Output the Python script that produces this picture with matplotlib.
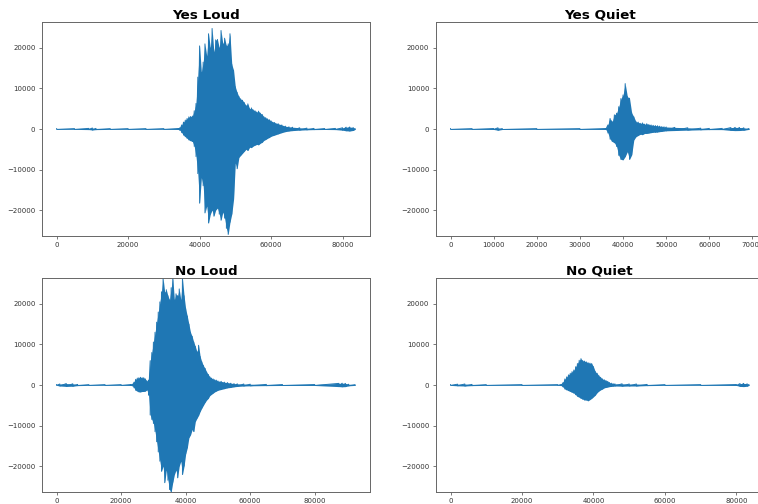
import numpy as np
import matplotlib
matplotlib.use('Agg')
import matplotlib.pyplot as plt

# peak envelope of each recording: sample index, max and min amplitude
yes_loud_pos = [0, 5000, 9000, 10000, 11000, 15000, 20000, 25000, 30000, 34000,
                34500, 35000, 35500, 36000, 36500, 37000, 37500, 38000, 38500, 39000,
                39500, 40000, 40500, 41000, 41500, 42000, 42500, 43000, 43500, 44000,
                44500, 45000, 45500, 46000, 46500, 47000, 47500, 48000, 48500, 49000,
                49500, 50000, 50500, 51000, 51500, 52000, 52500, 53000, 53500, 54000,
                54500, 55000, 55500, 56000, 56500, 57000, 57500, 58000, 58500, 59000,
                59500, 60000, 61000, 62000, 63000, 64000, 65000, 66000, 68000, 70000,
                72000, 75000, 78000, 80000, 81000, 82000, 83000, 83500]
yes_loud_hi = [100, 100, 150, 250, 150, 100, 100, 100, 100, 120,
               300, 1000, 1700, 2200, 2600, 3000, 3100, 3200, 4500, 6300,
               12800, 20500, 14000, 16500, 21000, 18000, 23500, 20000, 24800, 19000,
               22000, 22100, 20000, 24300, 21000, 22400, 20500, 21000, 23500, 16000,
               14500, 10400, 9000, 8000, 7400, 7100, 6500, 5800, 6200, 5000,
               5200, 4700, 4500, 4200, 4400, 3900, 3600, 3000, 2800, 2500,
               2300, 2000, 1600, 1300, 1000, 700, 550, 450, 300, 220,
               150, 120, 150, 300, 450, 500, 350, 100]
yes_loud_lo = [-100, -100, -150, -250, -150, -100, -100, -100, -100, -120,
               -300, -900, -1500, -1900, -2300, -2700, -2900, -3100, -4300, -6800,
               -11000, -18300, -12000, -14000, -20700, -19000, -23200, -21000, -20000, -21500,
               -20000, -19500, -21000, -22500, -20500, -22000, -24500, -26000, -23000, -21000,
               -17400, -8400, -9800, -7000, -6500, -6000, -5500, -5000, -5300, -4500,
               -4600, -4200, -4000, -3800, -3900, -3500, -3300, -2800, -2600, -2300,
               -2100, -1800, -1500, -1200, -900, -650, -500, -400, -280, -200,
               -150, -120, -150, -300, -450, -500, -350, -100]

yes_quiet_pos = [0, 5000, 10000, 11000, 12000, 20000, 30000, 36000,
                 36500, 37000, 37500, 38000, 38500, 39000, 39500, 40000, 40500, 41000,
                 41500, 42000, 42500, 43000, 43500, 44000, 44500, 45000, 45500, 46000,
                 46500, 47000, 47500, 48000, 48500, 49000, 49500, 50000,
                 52000, 55000, 58000, 60000, 63000, 65000, 66000, 67000, 68000, 69200]
yes_quiet_hi = [100, 100, 120, 300, 120, 100, 100, 120,
                1000, 2600, 1800, 3500, 3900, 5500, 7500, 8400, 11200, 8000,
                7600, 4000, 3000, 1800, 1700, 1400, 1500, 1200, 1300, 1100,
                1000, 900, 850, 800, 700, 600, 550, 500,
                400, 300, 200, 150, 150, 350, 400, 380, 300, 100]
yes_quiet_lo = [-100, -100, -120, -300, -120, -100, -100, -120,
                -1000, -2500, -3100, -3400, -4300, -6500, -7500, -7600, -6800, -5600,
                -7500, -6400, -2700, -1900, -1600, -1300, -1400, -1100, -1100, -1000,
                -900, -800, -800, -750, -650, -600, -500, -450,
                -380, -280, -200, -150, -150, -350, -400, -380, -300, -100]

no_loud_pos = [0, 1000, 3000, 5000, 6500, 10000, 15000, 20000, 23000,
               23500, 24000, 24500, 25000, 25500, 26000, 26500, 27000, 27500, 28000,
               28500, 29000, 29500, 30000, 30500, 31000, 31500, 32000, 32500, 33000,
               33500, 34000, 34500, 35000, 35500, 36000, 36500, 37000, 37500, 38000,
               38500, 39000, 39500, 40000, 40500, 41000, 41500, 42000, 42500, 43000,
               43500, 44000, 44500, 45000, 45500, 46000, 46500, 47000, 47500, 48000,
               48500, 49000, 49500, 50000, 51000, 52000, 53000, 54000, 55000, 56000,
               58000, 60000, 65000, 70000, 80000, 87500, 88500, 89500, 90500, 92500]
no_loud_hi = [100, 250, 350, 300, 150, 100, 100, 100, 120,
              200, 700, 1400, 1700, 1800, 1900, 1800, 1800, 1500, 1000,
              1200, 6000, 8000, 10600, 13000, 15500, 18000, 20500, 23000, 26400,
              22900, 23500, 22000, 21000, 24000, 26400, 21000, 22500, 22000, 23700,
              21000, 26400, 22000, 18800, 17000, 15000, 13000, 12000, 10600, 9500,
              8200, 9800, 7000, 5700, 4800, 4100, 3200, 2600, 2000, 1700,
              1500, 1300, 1200, 1000, 900, 700, 600, 450, 350, 300,
              250, 200, 150, 120, 120, 400, 450, 400, 200, 100]
no_loud_lo = [-100, -250, -350, -300, -150, -100, -100, -100, -120,
              -200, -700, -1300, -1500, -1700, -1700, -1600, -1600, -1500, -1200,
              -2500, -7400, -8500, -9500, -11500, -14000, -16500, -18800, -21300, -20000,
              -24100, -21000, -23500, -25800, -26400, -24000, -22100, -21000, -22900, -20000,
              -18800, -22100, -20000, -17000, -15500, -13000, -12300, -11000, -11500, -9000,
              -8200, -7500, -6500, -5700, -5000, -4300, -3700, -3300, -2600, -2300,
              -2000, -1700, -1500, -1300, -1100, -900, -700, -600, -450, -350,
              -250, -200, -150, -120, -120, -400, -450, -400, -200, -100]

no_quiet_pos = [0, 2000, 4000, 6000, 10000, 20000, 30000,
                31000, 31500, 32000, 32500, 33000, 33500, 34000, 34500, 35000, 35500,
                36000, 36500, 37000, 37500, 38000, 38500, 39000, 39500, 40000, 40500,
                41000, 41500, 42000, 42500, 43000, 43500, 44000, 44500, 45000, 45500,
                46000, 48000, 50000, 52000, 55000, 60000, 70000, 80000,
                81000, 82000, 83000, 83500]
no_quiet_hi = [100, 200, 250, 150, 100, 100, 100,
               150, 600, 1500, 2000, 2500, 2900, 3300, 3700, 4500, 5300,
               6100, 6500, 6000, 5900, 5700, 5500, 5400, 5300, 4500, 3300,
               2900, 2300, 1900, 1500, 1300, 1100, 900, 600, 450, 350,
               300, 300, 250, 250, 150, 100, 100, 120,
               350, 400, 300, 100]
no_quiet_lo = [-100, -200, -250, -150, -100, -100, -100,
               -150, -500, -1000, -1200, -1400, -1600, -1800, -2000, -2400, -2800,
               -3000, -3300, -3500, -3700, -3700, -3900, -3600, -3300, -2900, -2500,
               -1900, -1500, -1200, -1000, -700, -600, -500, -400, -350, -300,
               -250, -300, -250, -250, -150, -100, -100, -120,
               -350, -400, -300, -100]

titles = ['Yes Loud', 'Yes Quiet', 'No Loud', 'No Quiet']

W, H = 758, 504
# axes boxes in pixels: left, top, width, height
boxes = [(41.7, 22, 328.3, 214), (435.6, 22, 328.3, 214),
         (41.7, 278, 328.3, 214), (435.6, 278, 328.3, 214)]
color = '#1f77b4'


def waveform(pos, hi, lo):
    x = np.repeat(np.asarray(pos, dtype=float), 2)
    y = np.column_stack([hi, lo]).ravel()
    return x, y


fig = plt.figure(figsize=(W / 100, H / 100), dpi=100)

series = [(yes_loud_pos, yes_loud_hi, yes_loud_lo),
          (yes_quiet_pos, yes_quiet_hi, yes_quiet_lo),
          (no_loud_pos, no_loud_hi, no_loud_lo),
          (no_quiet_pos, no_quiet_hi, no_quiet_lo)]

for (left, top, w, h), title, (pos, hi, lo) in zip(boxes, titles, series):
    ax = fig.add_axes([left / W, (H - top - h) / H, w / W, h / H])
    # solid body between the peaks, spikes drawn on top
    ax.fill_between(pos, lo, hi, color=color, lw=0)
    x, y = waveform(pos, hi, lo)
    ax.plot(x, y, color=color, lw=0.7)
    ax.margins(x=0.05)
    ax.set_ylim(-26400, 26400)
    ax.set_title(title, fontsize=9.7, fontweight='bold', pad=2.5)
    ax.tick_params(labelsize=5, length=2.5, width=0.5, pad=2,
                   colors='#444444', labelcolor='#333333')
    for sp in ax.spines.values():
        sp.set_linewidth(0.7)
        sp.set_color('#666666')

fig.savefig('out.png', dpi=100)
